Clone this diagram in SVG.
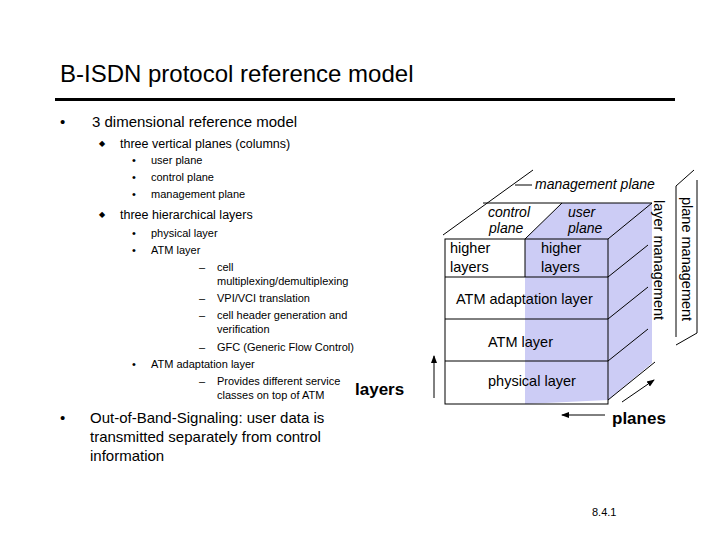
<svg xmlns="http://www.w3.org/2000/svg" width="720" height="540" viewBox="0 0 720 540">
<defs>
<style>
text{font-family:"Liberation Sans",Arial,sans-serif;fill:#000}
.l{stroke:#000;stroke-width:1;fill:none}
.s1{font-size:15px}.s2{font-size:12.5px}.s3{font-size:11px}
.d{font-size:8px}
.it{font-style:italic;font-size:14px}
.c{font-size:14.5px}
.b{font-weight:bold;font-size:17px}
</style>
<marker id="ah" markerWidth="8" markerHeight="8" refX="7" refY="4" orient="auto" markerUnits="userSpaceOnUse"><path d="M0,1 L8,4 L0,7Z" fill="#000"/></marker>
</defs>
<rect width="720" height="540" fill="#fff"/>
<text x="60" y="82" style="font-size:24px">B-ISDN protocol reference model</text>
<rect x="55" y="98" width="620" height="3" fill="#000"/>
<g id="bullets">
<text x="60" y="127" class="s1">•</text><text x="92" y="127" class="s1">3 dimensional reference model</text>
<text x="99" y="146" class="d">◆</text><text x="120" y="148" class="s2">three vertical planes (columns)</text>
<text x="132" y="164" class="s3">•</text><text x="151" y="164" class="s3">user plane</text>
<text x="132" y="181" class="s3">•</text><text x="151" y="181" class="s3">control plane</text>
<text x="132" y="198" class="s3">•</text><text x="151" y="198" class="s3">management plane</text>
<text x="99" y="217" class="d">◆</text><text x="120" y="219" class="s2">three hierarchical layers</text>
<text x="132" y="237" class="s3">•</text><text x="151" y="237" class="s3">physical layer</text>
<text x="132" y="254" class="s3">•</text><text x="151" y="254" class="s3">ATM layer</text>
<text x="199" y="271" class="s3">–</text><text x="217" y="271" class="s3">cell</text>
<text x="217" y="285" class="s3">multiplexing/demultiplexing</text>
<text x="199" y="302" class="s3">–</text><text x="217" y="302" class="s3">VPI/VCI translation</text>
<text x="199" y="319" class="s3">–</text><text x="217" y="319" class="s3">cell header generation and</text>
<text x="217" y="333" class="s3">verification</text>
<text x="199" y="351" class="s3">–</text><text x="217" y="351" class="s3">GFC (Generic Flow Control)</text>
<text x="132" y="368" class="s3">•</text><text x="151" y="368" class="s3">ATM adaptation layer</text>
<text x="199" y="385" class="s3">–</text><text x="217" y="385" class="s3">Provides different service</text>
<text x="217" y="399" class="s3">classes on top of ATM</text>
<text x="60" y="423" class="s1">•</text><text x="90" y="423" class="s1">Out-of-Band-Signaling: user data is</text>
<text x="90" y="442" class="s1">transmitted separately from control</text>
<text x="90" y="461" class="s1">information</text>
</g>
<g id="cube">
<polygon points="525,239 562,203 652,203 652,363 608,400 525,404" fill="#ccccf5"/>
<rect x="445" y="239" width="163" height="165" class="l"/>
<line x1="445" y1="277" x2="608" y2="277" class="l"/>
<line x1="445" y1="319" x2="608" y2="319" class="l"/>
<line x1="445" y1="361" x2="608" y2="361" class="l"/>
<line x1="525" y1="239" x2="525" y2="277" class="l"/>
<line x1="525" y1="239" x2="562" y2="203" class="l"/>
<line x1="483" y1="203" x2="652" y2="203" class="l"/>
<line x1="608" y1="239" x2="652" y2="203" class="l"/>
<line x1="608" y1="277" x2="648" y2="245" class="l"/>
<line x1="608" y1="319" x2="648" y2="287" class="l"/>
<line x1="608" y1="361" x2="648" y2="329" class="l"/>
<line x1="608" y1="400" x2="655" y2="362" class="l"/>
<line x1="443" y1="235" x2="533" y2="170" class="l"/>
<line x1="515" y1="185" x2="532" y2="185" class="l"/>
<line x1="676" y1="186" x2="676" y2="337" class="l"/>
<line x1="676" y1="186" x2="694" y2="170" class="l"/>
<line x1="697" y1="180" x2="697" y2="333" class="l"/>
<line x1="676" y1="345" x2="697" y2="333" class="l"/>
<text x="535" y="189" class="it">management plane</text>
<text x="488" y="217" class="it">control</text><text x="489" y="233" class="it">plane</text>
<text x="568" y="217" class="it">user</text><text x="568" y="233" class="it">plane</text>
<text x="450" y="253" class="c">higher</text><text x="450" y="272" class="c">layers</text>
<text x="541" y="253" class="c">higher</text><text x="541" y="272" class="c">layers</text>
<text x="456" y="304" class="c">ATM adaptation layer</text>
<text x="488" y="347" class="c">ATM layer</text>
<text x="488" y="386" class="c">physical layer</text>
<text transform="translate(654,200) rotate(90)" class="c">layer management</text>
<text transform="translate(682,197) rotate(90)" class="c">plane management</text>
</g>
<g id="connectors">
<line x1="434" y1="398" x2="434" y2="356" class="l" stroke-width="2" marker-end="url(#ah)"/>
<line x1="605" y1="415" x2="562" y2="415" class="l" marker-end="url(#ah)"/>
<line x1="622" y1="402" x2="654" y2="380" class="l" stroke-width="1.5" marker-end="url(#ah)"/>
</g>
<text x="355" y="395" class="b">layers</text>
<text x="612" y="424" class="b">planes</text>
<text x="592" y="516" style="font-size:11px">8.4.1</text>
</svg>
